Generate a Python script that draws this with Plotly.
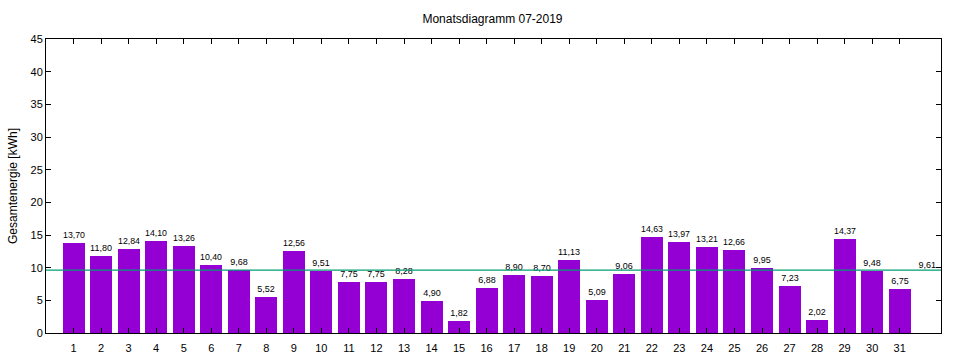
import plotly.graph_objects as go

days = list(range(1, 32))
energy = [13.70, 11.80, 12.84, 14.10, 13.26, 10.40, 9.68, 5.52, 12.56, 9.51,
          7.75, 7.75, 8.28, 4.90, 1.82, 6.88, 8.90, 8.70, 11.13, 5.09,
          9.06, 14.63, 13.97, 13.21, 12.66, 9.95, 7.23, 2.02, 14.37, 9.48, 6.75]
average = 9.61
title = "Monatsdiagramm 07-2019"
y_title = "Gesamtenergie [kWh]"

def de(v):
    return f"{v:.2f}".replace(".", ",")

FONT = "Liberation Sans, Arial, sans-serif"

fig = go.Figure()
fig.add_trace(go.Bar(
    x=days, y=energy, width=0.8,
    marker=dict(color="#9400D3", line=dict(width=0)),
    text=[de(v) for v in energy], textposition="outside",
    textfont=dict(size=9, color="#000000", family=FONT),
    cliponaxis=False, showlegend=False, hoverinfo="x+y",
))
fig.add_trace(go.Scatter(
    x=[0, 32.5], y=[average, average], mode="lines",
    line=dict(color="#009E73", width=1.2), showlegend=False, hoverinfo="y",
))
fig.add_trace(go.Scatter(
    x=[32.0], y=[average], mode="text", text=[de(average)],
    textposition="top center", textfont=dict(size=9, color="#000000", family=FONT),
    showlegend=False, cliponaxis=False,
))

fig.update_layout(
    width=960, height=360,
    margin=dict(l=46, r=19, t=39, b=27, autoexpand=False),
    paper_bgcolor="white", plot_bgcolor="white",
    font=dict(family=FONT, size=11, color="#000000"),
    title=dict(text=title, x=0.513, xanchor="center", y=0.947, yanchor="middle",
               font=dict(size=12, family=FONT)),
    bargap=0,
)
fig.update_xaxes(
    range=[0, 32.5], tickmode="array", tickvals=days, ticktext=[str(d) for d in days],
    ticks="inside", ticklen=5, tickcolor="#000", mirror="ticks", automargin=False,
    showline=True, linecolor="#000", linewidth=1, showgrid=False, zeroline=False,
    tickfont=dict(size=11), ticklabelstandoff=5,
)
fig.update_yaxes(
    range=[0, 45], tickmode="linear", tick0=0, dtick=5,
    ticks="inside", ticklen=5, tickcolor="#000", mirror="ticks", automargin=False,
    showline=True, linecolor="#000", linewidth=1, showgrid=False, zeroline=False,
    title=dict(text=y_title, standoff=10, font=dict(size=12)),
    tickfont=dict(size=11),
)

fig.write_html("out.html", config={"displayModeBar": False},
               post_script="document.body.style.margin='0';")
